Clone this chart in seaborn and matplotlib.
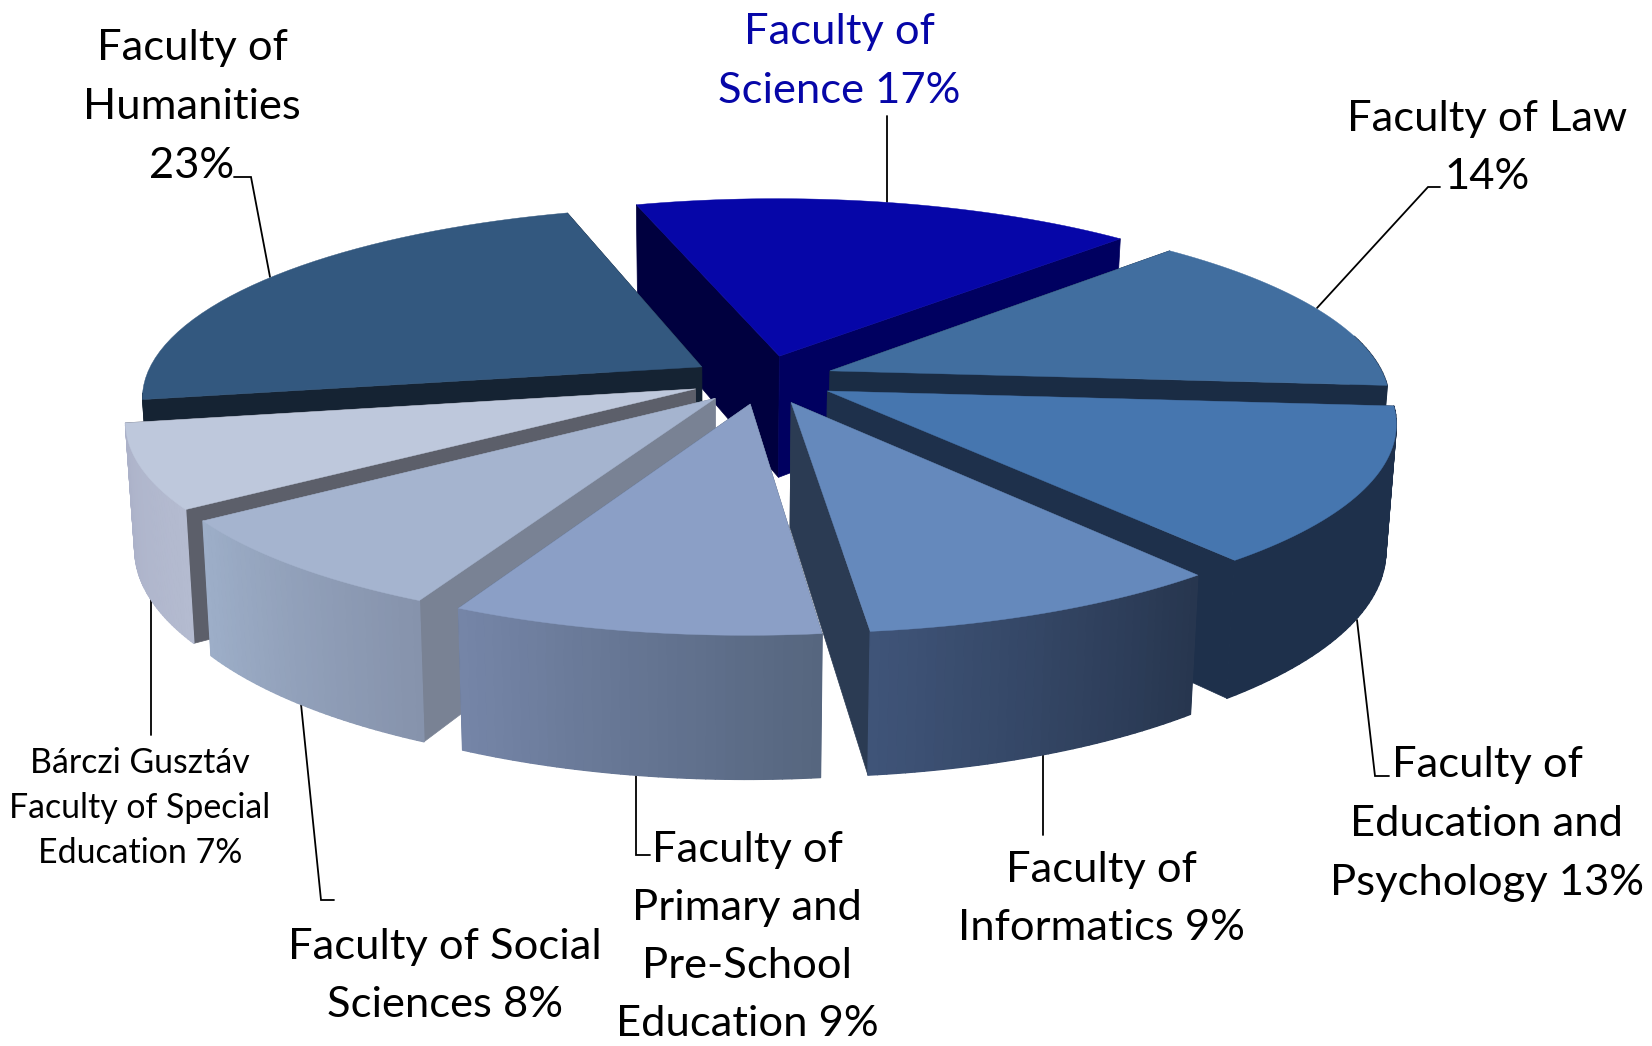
import numpy as np
import seaborn as sns
import matplotlib.pyplot as plt
from matplotlib.collections import PolyCollection

# values from the chart, clockwise from the top slice
faculties = ['Science', 'Law', 'Education', 'Informatics', 'Primary', 'Social', 'Special', 'Humanities']
shares = [17, 14, 13, 9, 9, 8, 7, 23]

top_colors = ['#0606A8', '#416E9F', '#4676AF', '#6589BC', '#8B9FC6', '#A5B4CF', '#BEC8DC', '#33587F']
start_wall_colors = ['#00003F', '#1A2C44', '#1E304B', '#2B3B53', '#56667F', '#798294', '#5C5F6A', '#152333']
end_wall_colors = ['#000060', '#1A2C44', '#1E304B', '#2B3B53', '#56667F', '#798294', '#5C5F6A', '#152333']
arc_left_colors = ['#00003F', '#1A2C44', '#1E304B', '#3F5478', '#7585A7', '#9DAEC8', '#ACB2C9', '#152333']
arc_right_colors = ['#00003F', '#1A2C44', '#1E304B', '#27364F', '#56667F', '#8693AC', '#B4BBD0', '#152333']

# labels: text, centre x, first line y, line spacing, size, colour
label_font = 'Lato'
labels = [
    ('Faculty of\nScience 17%', 839, 32, 59, 31.3, '#0606A8'),
    ('Faculty of Law\n14%', 1487, 119, 58, 31.3, 'black'),
    ('Faculty of\nEducation and\nPsychology 13%', 1487, 765, 59, 31.3, 'black'),
    ('Faculty of\nInformatics 9%', 1101, 870, 58, 31.3, 'black'),
    ('Faculty of\nPrimary and\nPre-School\nEducation 9%', 747, 850, 58, 31.3, 'black'),
    ('Faculty of Social\nSciences 8%', 445, 947, 58, 31.3, 'black'),
    ('Bárczi Gusztáv\nFaculty of Special\nEducation 7%', 140, 763, 45, 24.4, 'black'),
    ('Faculty of\nHumanities\n23%', 192, 48, 59, 31.3, 'black'),
]
leaders = [
    ([887, 887], [116, 202]),
    ([1440, 1428, 1317], [187, 187, 308]),
    ([1357, 1375, 1389], [620, 776, 776]),
    ([1043, 1043], [755, 835]),
    ([636, 636, 650], [776, 855, 855]),
    ([301, 321, 334], [704, 900, 900]),
    ([151, 151], [597, 735]),
    ([234, 251, 270], [177, 177, 277]),
]

# view of the tilted pie, fitted to the picture
start_angle = 1.706
view_x = (568.82, 23.15, 762.85)
view_y = (-20.82, -128.70, 379.47)
view_w = (0.0261, 0.1495)
explode = 0.13


def project(u, v):
    w = 1 + view_w[0] * u + view_w[1] * v
    x = (view_x[0] * u + view_x[1] * v + view_x[2]) / w
    y = (view_y[0] * u + view_y[1] * v + view_y[2]) / w
    return np.column_stack([x, y])


def lower(points):
    # bottom face of the slab, seen a little smaller and shifted down
    x = points[:, 0] + (720 - points[:, 0]) * 0.0155
    y = points[:, 1] * 1.082 + 92
    return np.column_stack([x, y])


sns.set_theme(style='white')
plt.rcParams['font.family'] = [label_font, 'DejaVu Sans']

fig = plt.figure(figsize=(16.52, 10.46), dpi=100)
ax = fig.add_axes([0, 0, 1, 1])
ax.set_xlim(0, 1652)
ax.set_ylim(1046, 0)
ax.axis('off')

edges = start_angle - np.r_[0, np.cumsum(shares)] / np.sum(shares) * 2 * np.pi
mids = (edges[:-1] + edges[1:]) / 2

# back slices first so the front ones cover them
for i in np.argsort(-np.sin(mids)):
    off_u = explode * np.cos(mids[i])
    off_v = explode * np.sin(mids[i])
    theta = np.linspace(edges[i], edges[i + 1], 40)
    arc = project(off_u + np.cos(theta), off_v + np.sin(theta))
    arc_low = lower(arc)
    tip = project(np.array([off_u]), np.array([off_v]))
    tip_low = lower(tip)

    start_wall = np.vstack([tip, arc[:1], arc_low[:1], tip_low])
    end_wall = np.vstack([tip, arc[-1:], arc_low[-1:], tip_low])
    ax.fill(start_wall[:, 0], start_wall[:, 1], color=start_wall_colors[i], lw=0.5)
    ax.fill(end_wall[:, 0], end_wall[:, 1], color=end_wall_colors[i], lw=0.5)

    # outer wall, shaded along its width; the part facing away is not drawn
    front = np.sin(theta) < 0.05
    if front.sum() > 1:
        a, b = arc[front], arc_low[front]
        quads = [np.vstack([a[j], a[j + 1], b[j + 1], b[j]]) for j in range(len(a) - 1)]
        shade = sns.blend_palette([arc_left_colors[i], arc_right_colors[i]], n_colors=len(quads))
        rank = np.argsort(np.argsort(a[:-1, 0]))
        seg_colors = [shade[k] for k in rank]
        outline = np.vstack([a, b[::-1]])
        ax.fill(outline[:, 0], outline[:, 1], color=shade[len(quads) // 2], lw=0)
        ax.add_collection(PolyCollection(quads, facecolors=seg_colors, edgecolors=seg_colors, linewidths=1.0))

    top = np.vstack([tip, arc])
    ax.fill(top[:, 0], top[:, 1], color=top_colors[i], lw=0.3)

for xs, ys in leaders:
    ax.plot(xs, ys, color='black', lw=1.3, solid_joinstyle='miter', zorder=0.5)

for text, x, y, spacing, size, color in labels:
    for n, line in enumerate(text.split('\n')):
        ax.text(x, y + n * spacing, line, ha='center', va='center', fontsize=size, color=color)

fig.savefig('out.png', dpi=100)
plt.close(fig)
